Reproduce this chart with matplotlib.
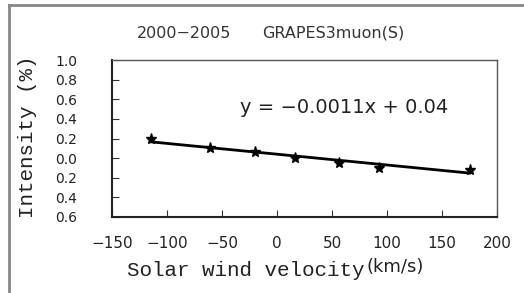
import matplotlib.pyplot as plt
from matplotlib.lines import Line2D

# wind velocity (km/s) vs intensity (%)
velocity = [-115, -61, -20, 16, 56, 93, 175]
intensity = [0.19, 0.105, 0.065, 0.0, -0.05, -0.10, -0.12]
# trendline coefficients as printed on the chart
slope = -0.0011
intercept = 0.04

x_ticks = [-150, -100, -50, 0, 50, 100, 150, 200]
y_ticks = [1.0, 0.8, 0.6, 0.4, 0.2, 0.0, -0.2, -0.4, -0.6]
y_tick_labels = ['1.0', '0.8', '0.6', '0.4', '0.2', '0.0', '0.2', '0.4', '0.6']

W, H = 524, 293
fig = plt.figure(figsize=(W / 100, H / 100), dpi=100)
fig.patch.set_facecolor('white')

# axes box in pixel coords: left 112, right 497, top 60, bottom 217
ax = fig.add_axes([112 / W, 1 - 217 / H, (497 - 112) / W, (217 - 60) / H])
ax.set_xlim(-150, 200)
ax.set_ylim(-0.6, 1.0)

x_fit = [min(velocity), max(velocity)]
y_fit = [slope * v + intercept for v in x_fit]
ax.plot(x_fit, y_fit, color='black', lw=2)
ax.plot(velocity, intensity, linestyle='none', marker='*', color='black', markersize=8)

ax.set_xticks(x_ticks)
ax.set_xticklabels([str(t).replace('-', '\u2212') for t in x_ticks], fontsize=11, color='#222222')
ax.set_yticks(y_ticks)
ax.set_yticklabels(y_tick_labels, fontsize=10, color='#222222')
ax.tick_params(axis='x', direction='in', length=5, pad=14, color='#333333')
ax.tick_params(axis='y', direction='in', length=5, pad=25, color='#333333')

for side in ['top', 'right']:
    ax.spines[side].set_color('#555555')
    ax.spines[side].set_linewidth(1)
for side in ['left', 'bottom']:
    ax.spines[side].set_color('#222222')
    ax.spines[side].set_linewidth(1.5)

ax.text(240 / W, 1 - 108 / H, 'y = \u22120.0011x + 0.04', transform=fig.transFigure,
        fontsize=14, va='center', ha='left', color='#222222')

fig.text(137 / W, 1 - 33 / H, '2000\u22122005', fontsize=11.5, va='center', ha='left', color='#333333')
fig.text(262 / W, 1 - 33 / H, 'GRAPES3muon(S)', fontsize=11.5, va='center', ha='left', color='#333333')

fig.text(246 / W, 1 - 271 / H, 'Solar wind velocity', family='Liberation Mono',
         fontsize=15, va='center', ha='center', color='#222222')
fig.text(366 / W, 1 - 267 / H, '(km/s)', fontsize=13, va='center', ha='left', color='#222222')
fig.text(28 / W, 1 - 137 / H, 'Intensity (%)', family='Liberation Mono', rotation=90,
         fontsize=15, va='center', ha='center', color='#222222')

# grey frame on top and left edges
fig.add_artist(Line2D([9 / W, 1], [1 - 5 / H, 1 - 5 / H], transform=fig.transFigure,
                      color='#888888', lw=2))
fig.add_artist(Line2D([9 / W, 9 / W], [0, 1 - 5 / H], transform=fig.transFigure,
                      color='#888888', lw=2))

fig.savefig('out.png', dpi=100)
